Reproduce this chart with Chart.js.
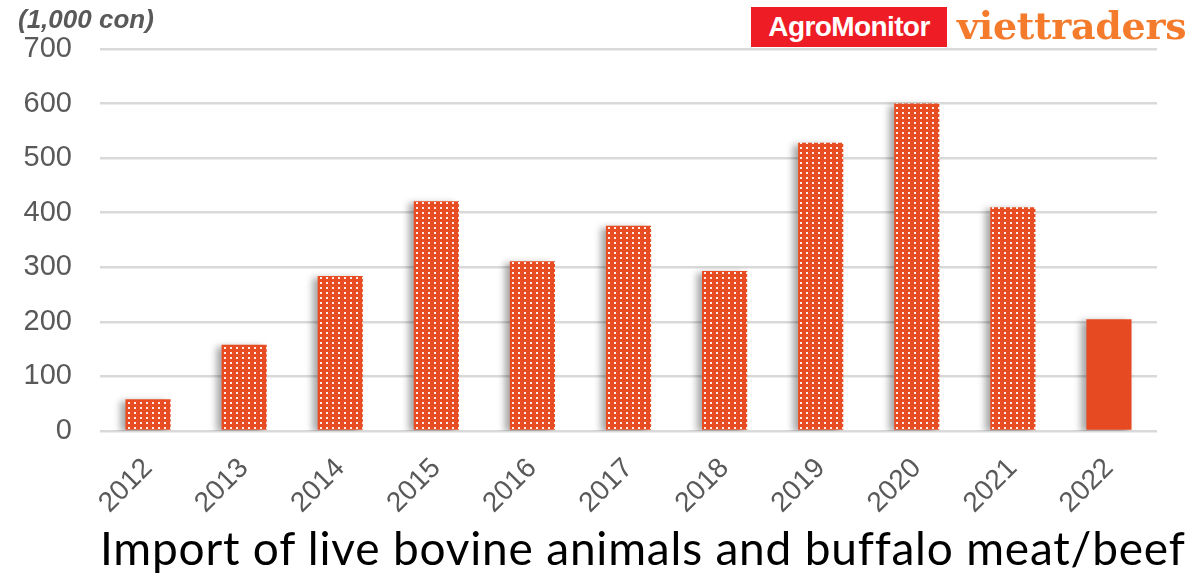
<!DOCTYPE html>
<html>
<head>
<meta charset="utf-8">
<script src="https://cdn.jsdelivr.net/npm/chart.js@4"></script>
<style>
  html, body { margin: 0; padding: 0; background: #fff; }
  #wrap { position: relative; width: 1196px; height: 576px; overflow: hidden; }
  #unit { position: absolute; left: 18px; top: 4px; font: italic bold 26px "Liberation Sans", Arial, sans-serif; color: #595959; }
  #agro { position: absolute; left: 751px; top: 7px; width: 196px; height: 40px; background: #EE1C25; color: #fff;
          font: bold 28px "Liberation Sans", Arial, sans-serif; line-height: 40px; text-align: center; letter-spacing: -0.6px; }
  #viet { position: absolute; left: 957px; top: 3px; font: bold 38px "DejaVu Serif", "Liberation Serif", serif; color: #F47B2C; letter-spacing: -0.3px; }
  #caption { position: absolute; left: 100px; top: 520px; font: 46px Lato, "Open Sans", sans-serif; color: #000; white-space: nowrap; letter-spacing: 0.8px; }
</style>
</head>
<body>
<div id="wrap">
  <canvas id="importChart" width="1196" height="576"></canvas>
  <div id="unit">(1,000 con)</div>
  <div id="agro">AgroMonitor</div>
  <div id="viet">viettraders</div>
  <div id="caption">Import of live bovine animals and buffalo meat/beef</div>
</div>
<script>
// data
const years = ['2012', '2013', '2014', '2015', '2016', '2017', '2018', '2019', '2020', '2021', '2022'];
const imports = [58, 158, 284, 421, 311, 376, 293, 528, 600, 410, 205];
const yTicks = [0, 100, 200, 300, 400, 500, 600, 700];

// dotted fill like the original bars
function dotPattern() {
    const c = document.createElement('canvas');
    c.width = 6;
    c.height = 5;
    const x = c.getContext('2d');
    x.fillStyle = '#E84C22';
    x.fillRect(0, 0, 6, 5);
    x.fillStyle = 'rgba(255,255,255,0.9)';
    x.fillRect(2, 2, 2, 2);
    return x.createPattern(c, 'repeat');
}

const pattern = dotPattern();
const barColors = imports.map(function(v, i) {
    return i === imports.length - 1 ? '#E64A22' : pattern;
});

// soft shadow on the left side of bars
const barShadow = {
    id: 'barShadow',
    beforeDatasetsDraw(chart) {
        const ctx = chart.ctx;
        ctx.save();
        ctx.shadowColor = 'rgba(0,0,0,0.35)';
        ctx.shadowBlur = 7;
        ctx.shadowOffsetX = -5;
        ctx.shadowOffsetY = 2;
    },
    afterDatasetsDraw(chart) {
        chart.ctx.restore();
    }
};

const ctx = document.getElementById('importChart').getContext('2d');
new Chart(ctx, {
    type: 'bar',
    data: {
        labels: years,
        datasets: [{
            label: 'Import',
            data: imports,
            backgroundColor: barColors,
            borderWidth: 0,
            categoryPercentage: 1,
            barPercentage: 0.47
        }]
    },
    options: {
        responsive: false,
        animation: false,
        layout: { padding: { top: 49, right: 39, left: 0, bottom: 0 } },
        plugins: {
            legend: { display: false },
            tooltip: { enabled: false }
        },
        scales: {
            x: {
                grid: { display: false },
                border: { display: false },
                ticks: {
                    color: '#595959',
                    font: { family: 'Liberation Sans', size: 28 },
                    maxRotation: 45,
                    minRotation: 45,
                    padding: 13
                },
                afterFit: function(scale) { scale.height = 145; }
            },
            y: {
                min: 0,
                max: 700,
                afterBuildTicks: function(scale) {
                    scale.ticks = yTicks.map(function(v) { return { value: v }; });
                },
                grid: { color: '#D9D9D9', lineWidth: 2.5, drawTicks: false },
                border: { display: false },
                ticks: {
                    color: '#595959',
                    font: { family: 'Liberation Sans', size: 29 },
                    padding: 28
                },
                afterFit: function(scale) { scale.width = 100; }
            }
        }
    },
    plugins: [barShadow]
});
</script>
</body>
</html>
